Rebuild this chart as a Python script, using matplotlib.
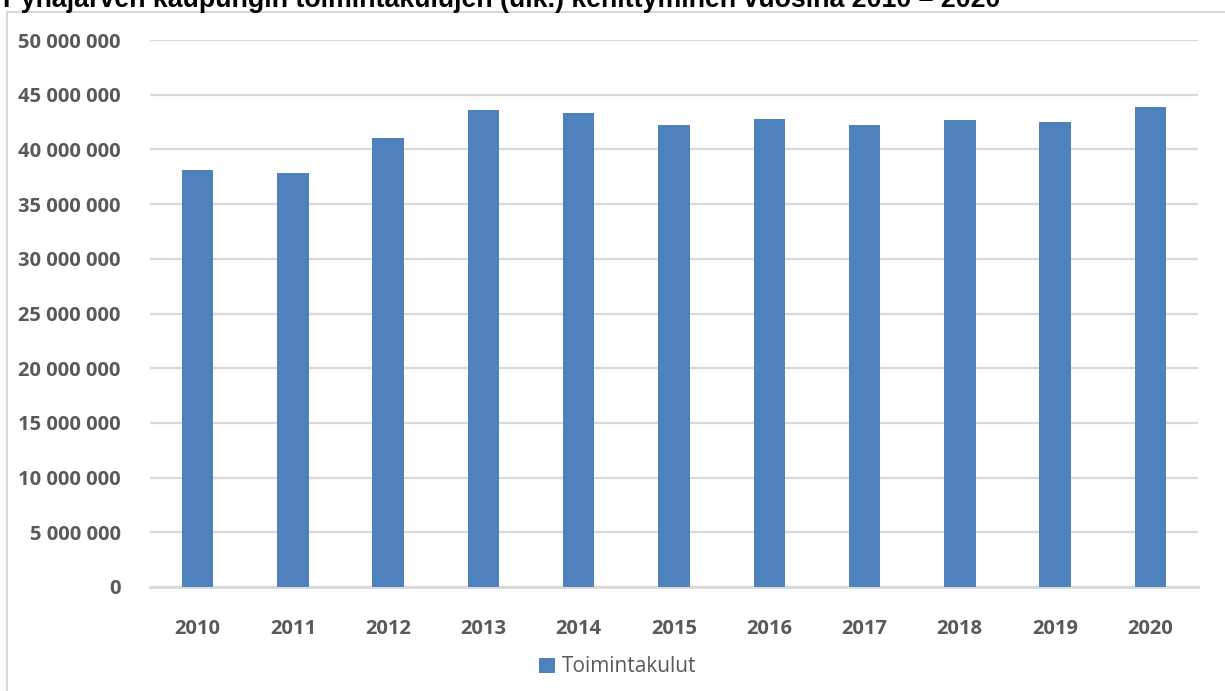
import numpy as np
import matplotlib
matplotlib.use("Agg")
import matplotlib.pyplot as plt
from matplotlib.lines import Line2D
from matplotlib.patches import Patch

# data (euros)
years = ["2010", "2011", "2012", "2013", "2014", "2015", "2016", "2017", "2018", "2019", "2020"]
toimintakulut = [38100000, 37800000, 41000000, 43600000, 43300000, 42200000,
                 42750000, 42200000, 42650000, 42500000, 43850000]
yticks = np.arange(0, 50000001, 5000000)

W, H = 1225, 691
fig = plt.figure(figsize=(W / 100, H / 100), dpi=100)
ax = fig.add_axes([150 / W, 1 - 587 / H, (1198 - 150) / W, (587 - 40) / H])

grey = "#595959"
gridc = "#D9D9D9"
x = np.arange(len(years))
ax.bar(x, toimintakulut, width=0.33, color="#4F81BD", zorder=3)

ax.set_xlim(-0.5, len(years) - 0.5)
ax.set_ylim(0, 50000000)
ax.set_yticks(yticks)
ax.set_yticklabels([f"{int(v):,}".replace(",", " ") for v in yticks])
ax.set_xticks(x)
ax.set_xticklabels(years)
for lab in ax.get_xticklabels() + ax.get_yticklabels():
    lab.set_fontfamily("Open Sans")
    lab.set_fontweight("bold")
    lab.set_fontsize(14.5)
    lab.set_color(grey)
ax.tick_params(axis="y", length=0, pad=21)
ax.tick_params(axis="x", length=0, pad=23)
ax.grid(axis="y", color=gridc, linewidth=1.6, zorder=0)
for s in ["left", "right", "top"]:
    ax.spines[s].set_visible(False)
ax.spines["bottom"].set_color(gridc)
ax.spines["bottom"].set_linewidth(2)

# chart frame (top and left edges visible)
fig.add_artist(Line2D([7 / W, 7 / W], [0, 1 - 12 / H], color=gridc, lw=1.5))
fig.add_artist(Line2D([7 / W, 1], [1 - 12 / H, 1 - 12 / H], color=gridc, lw=1.5))

# title is partly cut off at the top edge, as in the reference
fig.text(3 / W, 1 - 7 / H, "Pyhäjärven kaupungin toimintakulujen (ulk.) kehittyminen vuosina 2010 – 2020",
         fontfamily="Liberation Sans", fontweight="bold", fontsize=19.3, color="black",
         ha="left", va="baseline")

handles = [Patch(facecolor="#4F81BD", label="Toimintakulut")]
fig.legend(handles=handles, loc="center", bbox_to_anchor=(618 / W, 1 - 667 / H), frameon=False,
           prop={"family": "Open Sans", "size": 15}, labelcolor=grey,
           handlelength=0.75, handleheight=0.75, handletextpad=0.35)

fig.savefig("out.png", dpi=100)
